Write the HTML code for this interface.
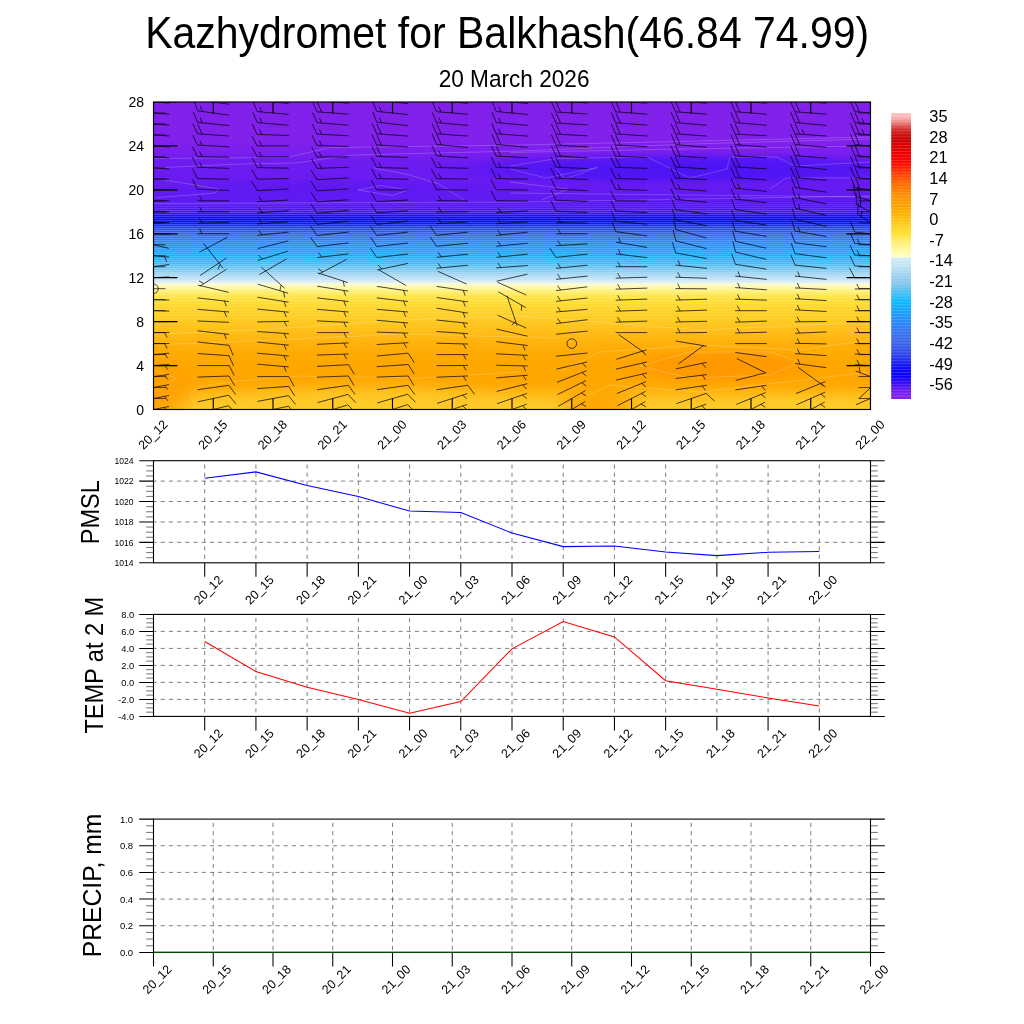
<!DOCTYPE html>
<html lang="en"><head><meta charset="utf-8"><title>Kazhydromet for Balkhash</title>
<style>html,body{margin:0;padding:0;background:#fff}svg{display:block}text{font-family:"Liberation Sans",sans-serif;fill:#000}</style></head><body>
<svg width="1024" height="1024" viewBox="0 0 1024 1024">
<defs>
<linearGradient id="tg" gradientUnits="userSpaceOnUse" x1="0" y1="0" x2="0" y2="1024">
<stop offset="0.09961" stop-color="#8220eb"/>
<stop offset="0.13867" stop-color="#8220ec"/>
<stop offset="0.14648" stop-color="#7c1fee"/>
<stop offset="0.15625" stop-color="#701cf0"/>
<stop offset="0.17578" stop-color="#6a1bf1"/>
<stop offset="0.19336" stop-color="#601af2"/>
<stop offset="0.20020" stop-color="#5818f3"/>
<stop offset="0.20703" stop-color="#4012f8"/>
<stop offset="0.21143" stop-color="#1206fc"/>
<stop offset="0.21436" stop-color="#0000ff"/>
<stop offset="0.21777" stop-color="#0412fa"/>
<stop offset="0.22266" stop-color="#2444f2"/>
<stop offset="0.22949" stop-color="#3468ec"/>
<stop offset="0.23633" stop-color="#2c84f6"/>
<stop offset="0.24414" stop-color="#1e9cff"/>
<stop offset="0.25098" stop-color="#0cb6ff"/>
<stop offset="0.25684" stop-color="#38bcf8"/>
<stop offset="0.26270" stop-color="#78c6f0"/>
<stop offset="0.26855" stop-color="#a4d6f4"/>
<stop offset="0.27344" stop-color="#c8e6f8"/>
<stop offset="0.27588" stop-color="#dcf0f4"/>
<stop offset="0.27734" stop-color="#fbfcd0"/>
<stop offset="0.28027" stop-color="#fffab0"/>
<stop offset="0.28418" stop-color="#fff07a"/>
<stop offset="0.29004" stop-color="#ffe445"/>
<stop offset="0.29883" stop-color="#ffd830"/>
<stop offset="0.31250" stop-color="#ffca20"/>
<stop offset="0.32715" stop-color="#ffba12"/>
<stop offset="0.33789" stop-color="#ffae08"/>
<stop offset="0.35156" stop-color="#ffa802"/>
<stop offset="0.36914" stop-color="#ffa600"/>
<stop offset="0.37793" stop-color="#ffab06"/>
<stop offset="0.38379" stop-color="#ffb814"/>
<stop offset="0.39160" stop-color="#ffc524"/>
<stop offset="0.39990" stop-color="#ffca2a"/>
</linearGradient>
<linearGradient id="cbg" gradientUnits="userSpaceOnUse" x1="0" y1="113.2" x2="0" y2="399.0">
<stop offset="0.0103" stop-color="#ffbcbc"/>
<stop offset="0.0309" stop-color="#ee8888"/>
<stop offset="0.0515" stop-color="#d83838"/>
<stop offset="0.0722" stop-color="#cc1010"/>
<stop offset="0.0928" stop-color="#c80000"/>
<stop offset="0.1237" stop-color="#e00000"/>
<stop offset="0.1546" stop-color="#f80000"/>
<stop offset="0.1753" stop-color="#ff0800"/>
<stop offset="0.1959" stop-color="#ff2800"/>
<stop offset="0.2165" stop-color="#ff4500"/>
<stop offset="0.2474" stop-color="#ff6a00"/>
<stop offset="0.2784" stop-color="#ff8800"/>
<stop offset="0.3093" stop-color="#ff9c00"/>
<stop offset="0.3402" stop-color="#ffaa00"/>
<stop offset="0.3711" stop-color="#ffc010"/>
<stop offset="0.4021" stop-color="#ffd424"/>
<stop offset="0.4227" stop-color="#ffe132"/>
<stop offset="0.4536" stop-color="#fff078"/>
<stop offset="0.4845" stop-color="#fffaa8"/>
<stop offset="0.5041" stop-color="#ffffc8"/>
<stop offset="0.5062" stop-color="#d2ecf8"/>
<stop offset="0.5361" stop-color="#c0e2f4"/>
<stop offset="0.5670" stop-color="#a0d2ee"/>
<stop offset="0.5979" stop-color="#80c6ee"/>
<stop offset="0.6289" stop-color="#48bef6"/>
<stop offset="0.6598" stop-color="#08baff"/>
<stop offset="0.6907" stop-color="#18a4ff"/>
<stop offset="0.7320" stop-color="#2888fa"/>
<stop offset="0.7732" stop-color="#3870ee"/>
<stop offset="0.8041" stop-color="#3c64e6"/>
<stop offset="0.8454" stop-color="#2c44ea"/>
<stop offset="0.8866" stop-color="#1010f6"/>
<stop offset="0.9175" stop-color="#0800fc"/>
<stop offset="0.9485" stop-color="#3c0cf6"/>
<stop offset="0.9691" stop-color="#6e1cee"/>
<stop offset="0.9948" stop-color="#8422ec"/>
</linearGradient>
<clipPath id="pc"><rect x="153.5" y="102.0" width="717.0" height="307.5"/></clipPath>
<radialGradient id="b1" gradientUnits="userSpaceOnUse" cx="720" cy="366" r="110" gradientTransform="translate(720 366) scale(1 0.1818) translate(-720 -366)"><stop offset="0" stop-color="#ff9600" stop-opacity="0.95"/><stop offset="0.55" stop-color="#ff9600" stop-opacity="0.71"/><stop offset="1" stop-color="#ff9600" stop-opacity="0"/></radialGradient>
<radialGradient id="b2" gradientUnits="userSpaceOnUse" cx="150" cy="392" r="52" gradientTransform="translate(150 392) scale(1 0.7692) translate(-150 -392)"><stop offset="0" stop-color="#ff9e00" stop-opacity="0.95"/><stop offset="0.55" stop-color="#ff9e00" stop-opacity="0.71"/><stop offset="1" stop-color="#ff9e00" stop-opacity="0"/></radialGradient>
<radialGradient id="b3" gradientUnits="userSpaceOnUse" cx="370" cy="414" r="200" gradientTransform="translate(370 414) scale(1 0.1800) translate(-370 -414)"><stop offset="0" stop-color="#ffcc2a" stop-opacity="0.7"/><stop offset="0.55" stop-color="#ffcc2a" stop-opacity="0.52"/><stop offset="1" stop-color="#ffcc2a" stop-opacity="0"/></radialGradient>
<radialGradient id="b4" gradientUnits="userSpaceOnUse" cx="800" cy="412" r="110" gradientTransform="translate(800 412) scale(1 0.1818) translate(-800 -412)"><stop offset="0" stop-color="#ffce2a" stop-opacity="0.6"/><stop offset="0.55" stop-color="#ffce2a" stop-opacity="0.45"/><stop offset="1" stop-color="#ffce2a" stop-opacity="0"/></radialGradient>
<radialGradient id="b5" gradientUnits="userSpaceOnUse" cx="690" cy="169" r="270" gradientTransform="translate(690 169) scale(1 0.0630) translate(-690 -169)"><stop offset="0" stop-color="#4212f6" stop-opacity="0.8"/><stop offset="0.55" stop-color="#4212f6" stop-opacity="0.60"/><stop offset="1" stop-color="#4212f6" stop-opacity="0"/></radialGradient>
<radialGradient id="b7" gradientUnits="userSpaceOnUse" cx="330" cy="188" r="190" gradientTransform="translate(330 188) scale(1 0.0526) translate(-330 -188)"><stop offset="0" stop-color="#5a16f4" stop-opacity="0.5"/><stop offset="0.55" stop-color="#5a16f4" stop-opacity="0.38"/><stop offset="1" stop-color="#5a16f4" stop-opacity="0"/></radialGradient>
<radialGradient id="b6" gradientUnits="userSpaceOnUse" cx="598" cy="404" r="46" gradientTransform="translate(598 404) scale(1 0.5652) translate(-598 -404)"><stop offset="0" stop-color="#ffa400" stop-opacity="0.95"/><stop offset="0.55" stop-color="#ffa400" stop-opacity="0.71"/><stop offset="1" stop-color="#ffa400" stop-opacity="0"/></radialGradient>
<pattern id="seam1" patternUnits="userSpaceOnUse" x="0" y="200.1" width="8" height="2"><rect x="0" y="0" width="8" height="0.85" fill="#fff" fill-opacity="0.27"/></pattern>
<pattern id="seam2" patternUnits="userSpaceOnUse" x="0" y="285.1" width="8" height="3"><rect x="0" y="0" width="8" height="0.85" fill="#fff" fill-opacity="0.19"/></pattern>
<linearGradient id="mg" gradientUnits="userSpaceOnUse" x1="0" y1="200" x2="0" y2="356"><stop offset="0" stop-color="#000"/><stop offset="0.08" stop-color="#fff"/><stop offset="0.55" stop-color="#fff"/><stop offset="0.7" stop-color="#aaa"/><stop offset="1" stop-color="#000"/></linearGradient>
<mask id="mk" maskUnits="userSpaceOnUse" x="153.5" y="200" width="717.0" height="156"><rect x="153.5" y="200" width="717.0" height="156" fill="url(#mg)"/></mask>
</defs>
<rect width="1024" height="1024" fill="#fff"/>
<text x="145.2" y="47.8" font-size="44" textLength="724" lengthAdjust="spacingAndGlyphs">Kazhydromet for Balkhash(46.84 74.99)</text>
<text x="438.7" y="86.6" font-size="24.3" textLength="150.8" lengthAdjust="spacingAndGlyphs">20 March 2026</text>
<rect x="153.5" y="102.0" width="717.0" height="307.5" fill="url(#tg)"/>
<g clip-path="url(#pc)">
<rect x="153.5" y="102.0" width="717.0" height="307.5" fill="url(#b1)"/>
<rect x="153.5" y="102.0" width="717.0" height="307.5" fill="url(#b2)"/>
<rect x="153.5" y="102.0" width="717.0" height="307.5" fill="url(#b3)"/>
<rect x="153.5" y="102.0" width="717.0" height="307.5" fill="url(#b4)"/>
<rect x="153.5" y="102.0" width="717.0" height="307.5" fill="url(#b5)"/>
<rect x="153.5" y="102.0" width="717.0" height="307.5" fill="url(#b7)"/>
<rect x="153.5" y="102.0" width="717.0" height="307.5" fill="url(#b6)"/>
<path d="M153 158.5L287 157.4L330 147.6L520 145L700 141L870 137M153 168L240 164L295 163L352 155L520 151L690 144L870 139M153 178L219 189L215 193L153 198M374 168L410 175L439 184L464 200M358 190L381 185.5L408 190L392 195.5L358 190M153 203.5L520 202L870 196M510 152.5L655 149.5L870 146M510 166L557 158.5L647 157L690 178L727 169L730 157L777 157L795 166L870 162M510 169L546 178L597 167.5L565 179L556 168M510 182L568 189L542 200M770 189L786 178L870 178M510 193L690 195L870 197M153 334L258 330L403 320L520 316L700 330L870 322M153 345L295 339L403 334L560 338M197 408L190 396L197 387L237 381L300 376L420 378L520 372M153 370L176 378L153 392M560 372L600 352L700 345L800 350L870 340M640 366L690 352L770 352L800 362L770 375L690 378L640 366M560 409L610 385L700 392L870 372" stroke="#fff" stroke-opacity="0.32" stroke-width="0.6" fill="none"/>
<g mask="url(#mk)">
<rect x="153.5" y="200.1" width="717.0" height="85" fill="url(#seam1)"/>
<rect x="153.5" y="285.1" width="717.0" height="71" fill="url(#seam2)"/>
</g>
<g stroke="#000" stroke-width="0.72" fill="none" stroke-linecap="butt">
<path d="M138.0 412.5L169.0 406.5M164.4 407.4L167.9 411.7"/>
<path d="M138.0 401.5L169.0 395.5M164.4 396.4L167.9 400.8"/>
<path d="M138.0 390.6L169.0 384.5M164.4 385.4L167.9 389.8"/>
<path d="M137.9 378.8L169.1 374.4M164.5 375.0L167.8 379.5"/>
<path d="M137.7 366.7L169.3 364.5M164.6 364.8L167.5 369.5"/>
<path d="M137.8 356.0L169.2 353.2M164.6 353.6L167.6 358.3"/>
<path d="M137.7 343.6L169.3 343.6M164.6 343.6L167.2 348.6"/>
<path d="M137.7 332.6L169.3 332.6M164.6 332.6L167.2 337.6"/>
<path d="M137.7 321.6L169.3 321.6"/>
<path d="M137.7 310.2L169.3 311.1"/>
<path d="M137.7 299.3L169.3 300.1"/>
<circle cx="153.5" cy="288.7" r="4.8" fill="none"/>
<path d="M137.7 278.5L169.3 276.9"/>
<path d="M137.9 268.9L169.1 264.5"/>
<path d="M137.8 254.4L169.2 257.1M164.6 256.7L166.7 261.9"/>
<path d="M168.9 248.3L138.1 241.2"/>
<path d="M169.3 234.1L137.7 233.5M142.4 233.6L139.9 228.6"/>
<path d="M169.3 222.5L137.7 223.1M142.4 223.0L139.7 218.1"/>
<path d="M169.3 212.1L137.7 211.5M142.4 211.6L139.9 206.6"/>
<path d="M169.3 200.8L137.7 200.8M142.4 200.8L139.8 195.9"/>
<path d="M169.3 189.9L137.7 189.9M137.7 189.9L132.4 180.0"/>
<path d="M169.3 179.4L137.7 178.3M137.7 178.3L132.8 168.3"/>
<path d="M169.3 169.0L137.7 166.8M137.7 166.8L133.2 156.6M142.4 167.1L140.1 162.0"/>
<path d="M169.3 158.0L137.7 155.8M137.7 155.8L133.2 145.6M142.4 156.1L140.1 151.0"/>
<path d="M169.3 147.0L137.7 144.8M137.7 144.8L133.2 134.6M142.4 145.2L140.1 140.0"/>
<path d="M169.3 136.0L137.7 133.8M137.7 133.8L133.2 123.6M142.4 134.2L140.1 129.1"/>
<path d="M169.3 125.1L137.7 122.9M137.7 122.9L133.2 112.6M142.4 123.2L140.1 118.1"/>
<path d="M169.3 114.1L137.7 111.9M137.7 111.9L133.2 101.6M142.4 112.2L140.1 107.1"/>
<path d="M169.3 103.1L137.7 100.9M137.7 100.9L133.2 90.7M142.4 101.2L140.1 96.1"/>
<path d="M197.9 413.3L228.6 405.7M228.6 405.7L236.1 414.0"/>
<path d="M197.8 401.8L228.7 395.2M228.7 395.2L235.9 403.8"/>
<path d="M197.6 389.7L228.9 385.3M228.9 385.3L235.5 394.4"/>
<path d="M197.5 377.1L229.0 376.0M229.0 376.0L234.6 385.7"/>
<path d="M197.4 365.6L229.1 365.6M229.1 365.6L234.3 375.5"/>
<path d="M197.5 353.5L229.0 355.7M229.0 355.7L233.6 365.9"/>
<path d="M197.5 342.0L229.0 345.3M229.0 345.3L233.2 355.6"/>
<path d="M197.6 330.8L228.9 334.4M224.3 333.9L226.3 339.1"/>
<path d="M197.5 321.0L229.0 322.3"/>
<path d="M197.5 309.3L229.0 312.0M224.3 311.6L226.5 316.8"/>
<path d="M197.6 297.9L228.9 301.5M224.3 300.9L226.3 306.1"/>
<path d="M228.6 292.3L197.9 285.1"/>
<path d="M226.6 269.2L199.9 286.2M203.9 283.7L199.0 280.9"/>
<path d="M226.4 258.0L200.1 275.5"/>
<path d="M203.5 243.3L223.0 268.2M220.1 264.5L217.8 269.6"/>
<path d="M227.2 237.4L199.3 252.2"/>
<path d="M229.1 233.8L197.4 233.8M202.1 233.8L199.5 228.8"/>
<path d="M229.0 222.5L197.5 223.1M202.2 223.0L199.4 218.1"/>
<path d="M229.1 211.8L197.4 211.8M202.1 211.8L199.5 206.9"/>
<path d="M229.1 200.8L197.4 200.8M202.1 200.8L199.5 195.9"/>
<path d="M229.0 190.4L197.5 189.3M197.5 189.3L192.5 179.2"/>
<path d="M229.0 179.2L197.5 178.6M197.5 178.6L192.4 168.6"/>
<path d="M229.0 168.4L197.5 167.3M197.5 167.3L192.5 157.3M202.2 167.5L199.7 162.5"/>
<path d="M229.0 157.2L197.5 156.6M197.5 156.6L192.4 146.7M202.2 156.7L199.6 151.7"/>
<path d="M229.0 146.8L197.5 145.1M197.5 145.1L192.7 135.0M202.2 145.3L199.8 140.3"/>
<path d="M229.0 136.0L197.5 133.8M197.5 133.8L192.9 123.6M202.2 134.2L197.6 123.9"/>
<path d="M229.0 125.6L197.5 122.3M197.5 122.3L193.3 111.9M202.2 122.8L200.1 117.6"/>
<path d="M228.9 115.2L197.6 110.8M197.6 110.8L193.8 100.3M202.3 111.4L200.3 106.2"/>
<path d="M228.9 104.2L197.6 99.8M197.6 99.8L193.8 89.3M202.3 100.5L200.3 95.2"/>
<path d="M257.5 412.8L288.5 406.2M288.5 406.2L295.7 414.8"/>
<path d="M257.5 401.4L288.5 395.6M288.5 395.6L295.5 404.4"/>
<path d="M257.2 388.6L288.8 386.4M288.8 386.4L294.7 395.9"/>
<path d="M257.2 376.6L288.8 376.6M288.8 376.6L294.1 386.4"/>
<path d="M257.3 364.2L288.7 366.9M284.1 366.5L286.2 371.7"/>
<path d="M257.3 353.2L288.7 356.0M284.1 355.6L286.2 360.7"/>
<path d="M257.3 342.0L288.7 345.2M284.0 344.7L286.2 349.9"/>
<path d="M257.2 331.5L288.8 333.7M284.1 333.4L286.4 338.5"/>
<path d="M257.2 321.9L288.8 321.4M284.1 321.4L286.8 326.3"/>
<path d="M257.3 309.1L288.7 312.2M284.0 311.7L286.2 316.9"/>
<path d="M257.4 297.2L288.6 302.2M284.0 301.4L285.8 306.7"/>
<path d="M257.9 284.2L288.1 293.2M283.6 291.9L284.7 297.4"/>
<path d="M261.3 267.1L284.7 288.3M281.2 285.1L279.9 290.6"/>
<path d="M286.7 258.8L259.3 274.6"/>
<path d="M288.1 251.1L257.9 260.4M262.4 259.0L258.4 255.0"/>
<path d="M288.3 240.9L257.7 248.6"/>
<path d="M288.7 232.1L257.3 235.4M262.0 234.9L258.8 230.3"/>
<path d="M288.8 221.7L257.2 223.9M261.9 223.6L259.0 218.8"/>
<path d="M288.8 210.7L257.2 212.9M261.9 212.6L259.0 207.8"/>
<path d="M288.8 200.0L257.2 201.7M261.9 201.4L259.0 196.6"/>
<path d="M288.8 189.0L257.2 190.7M257.2 190.7L251.5 181.1"/>
<path d="M288.8 178.6L257.2 179.2M257.2 179.2L251.8 169.4"/>
<path d="M288.8 168.2L257.2 167.6M257.2 167.6L252.1 157.6M261.9 167.7L259.4 162.7"/>
<path d="M288.8 156.9L257.2 156.9M257.2 156.9L251.9 147.0M261.9 156.9L259.3 152.0"/>
<path d="M288.8 145.9L257.2 145.9M257.2 145.9L251.9 136.0M261.9 145.9L259.3 141.0"/>
<path d="M288.8 135.5L257.2 134.4M257.2 134.4L252.3 124.3M261.9 134.6L259.5 129.5"/>
<path d="M288.7 125.3L257.3 122.6M257.3 122.6L252.9 112.3M261.9 123.0L259.8 117.8"/>
<path d="M288.7 114.4L257.3 111.6M257.3 111.6L252.9 101.3M261.9 112.0L259.8 106.9"/>
<path d="M288.7 103.4L257.3 100.6M257.3 100.6L252.9 90.3M261.9 101.0L259.8 95.9"/>
<path d="M317.6 414.1L347.9 404.9M347.9 404.9L355.8 412.8"/>
<path d="M317.5 402.6L348.0 394.4M348.0 394.4L355.7 402.6"/>
<path d="M317.1 389.7L348.4 385.3M348.4 385.3L355.0 394.4"/>
<path d="M317.0 377.1L348.5 376.0M348.5 376.0L354.1 385.7"/>
<path d="M317.0 366.4L348.5 364.7M348.5 364.7L354.3 374.3"/>
<path d="M317.0 355.1L348.5 354.0M343.8 354.2L346.6 359.1"/>
<path d="M317.0 344.3L348.5 342.9M343.8 343.1L346.7 347.9"/>
<path d="M316.9 332.6L348.6 332.6M343.9 332.6L346.5 337.6"/>
<path d="M317.0 320.9L348.5 322.4M343.8 322.1L346.2 327.2"/>
<path d="M317.0 309.3L348.5 312.0M343.8 311.6L346.0 316.8"/>
<path d="M317.1 297.9L348.4 301.5M343.8 300.9L345.8 306.1"/>
<path d="M317.1 286.2L348.4 291.2M343.7 290.4L345.5 295.7"/>
<path d="M317.7 272.8L347.8 282.6M343.3 281.1L344.3 286.7"/>
<path d="M346.7 259.3L318.8 274.1M322.9 271.9L318.3 268.8"/>
<path d="M348.4 253.9L317.1 257.6M321.7 257.1L318.5 252.5"/>
<path d="M348.4 242.9L317.1 246.6M317.1 246.6L310.7 237.4"/>
<path d="M348.5 232.1L317.0 235.5M317.0 235.5L310.7 226.3"/>
<path d="M348.5 221.2L317.0 224.4M317.0 224.4L310.8 215.1"/>
<path d="M348.5 210.4L317.0 213.2M317.0 213.2L310.9 203.8"/>
<path d="M348.5 199.8L317.0 201.9M317.0 201.9L311.1 192.3"/>
<path d="M348.5 188.9L317.0 190.8M317.0 190.8L311.1 181.3"/>
<path d="M348.5 178.0L317.0 179.7M317.0 179.7L311.2 170.1"/>
<path d="M348.5 167.3L317.0 168.4M317.0 168.4L311.4 158.7M321.7 168.3L318.9 163.4"/>
<path d="M348.6 156.9L316.9 156.9M316.9 156.9L311.7 147.0M321.6 156.9L319.0 152.0"/>
<path d="M348.5 146.5L317.0 145.4M317.0 145.4L312.0 135.3M321.7 145.5L319.2 140.5"/>
<path d="M348.5 135.8L317.0 134.1M317.0 134.1L312.2 124.0M321.7 134.4L319.3 129.3"/>
<path d="M348.5 125.2L317.0 122.7M317.0 122.7L312.5 112.5M321.7 123.1L319.5 118.0"/>
<path d="M348.5 114.2L317.0 111.8M317.0 111.8L312.5 101.5M321.7 112.1L317.2 101.9"/>
<path d="M348.5 103.2L317.0 100.8M317.0 100.8L312.5 90.6M321.7 101.2L317.2 90.9"/>
<path d="M377.5 414.4L407.5 404.6M407.5 404.6L415.6 412.4"/>
<path d="M377.3 402.9L407.7 394.2M407.7 394.2L415.5 402.2"/>
<path d="M376.9 389.7L408.1 385.3M408.1 385.3L414.7 394.4"/>
<path d="M376.7 377.1L408.3 376.0M408.3 376.0L413.9 385.7"/>
<path d="M376.7 366.7L408.3 364.5M408.3 364.5L414.2 374.0"/>
<path d="M376.8 356.0L408.2 353.2M408.2 353.2L414.3 362.6"/>
<path d="M376.7 344.5L408.3 342.7M403.6 342.9L406.5 347.7"/>
<path d="M376.7 332.1L408.3 333.2M403.6 333.0L406.0 338.0"/>
<path d="M376.8 320.3L408.2 323.0M403.6 322.6L405.7 327.8"/>
<path d="M376.8 309.3L408.2 312.0M403.6 311.6L405.7 316.8"/>
<path d="M376.8 297.9L408.2 301.5M403.5 300.9L405.6 306.1"/>
<path d="M376.9 286.4L408.1 291.0M403.5 290.3L405.3 295.6"/>
<path d="M378.8 269.8L406.2 285.6"/>
<path d="M408.0 263.4L377.0 270.0M381.6 269.0L378.0 264.8"/>
<path d="M408.2 254.0L376.8 257.5M376.8 257.5L370.5 248.3"/>
<path d="M408.2 243.0L376.8 246.5M376.8 246.5L370.5 237.2"/>
<path d="M408.2 232.1L376.8 235.5M376.8 235.5L370.5 226.3"/>
<path d="M408.2 221.2L376.8 224.4M376.8 224.4L370.6 215.1"/>
<path d="M408.3 210.8L376.7 212.8M376.7 212.8L370.8 203.3"/>
<path d="M408.3 200.0L376.7 201.7M376.7 201.7L371.0 192.1"/>
<path d="M408.3 189.9L376.7 189.9M376.7 189.9L371.4 180.0"/>
<path d="M408.3 179.2L376.7 178.6M376.7 178.6L371.6 168.6M381.4 178.7L378.9 173.7"/>
<path d="M408.3 168.3L376.7 167.5M376.7 167.5L371.7 157.5M381.4 167.6L378.9 162.6"/>
<path d="M408.3 157.5L376.7 156.3M376.7 156.3L371.9 146.2M381.4 156.5L376.6 146.4"/>
<path d="M408.3 146.9L376.7 145.0M376.7 145.0L372.1 134.8M381.4 145.3L376.8 135.1"/>
<path d="M408.3 136.1L376.7 133.8M376.7 133.8L372.2 123.5M381.4 134.1L376.9 123.9"/>
<path d="M408.2 125.7L376.8 122.2M376.8 122.2L372.7 111.8M381.5 122.7L379.4 117.5"/>
<path d="M408.2 114.6L376.8 111.4M376.8 111.4L372.5 101.1M381.5 111.9L379.3 106.7"/>
<path d="M408.2 103.6L376.8 100.4M376.8 100.4L372.5 90.1M381.5 100.9L379.3 95.7"/>
<path d="M437.3 414.6L467.2 404.4M462.7 405.9L466.8 409.7"/>
<path d="M437.2 403.4L467.3 393.6M462.8 395.1L466.8 399.0"/>
<path d="M436.6 389.7L467.9 385.3M467.9 385.3L474.5 394.4"/>
<path d="M436.5 377.2L468.0 375.9M463.3 376.1L466.2 380.9"/>
<path d="M436.5 365.7L468.0 365.4M463.3 365.5L466.0 370.4"/>
<path d="M436.4 354.6L468.1 354.6M463.4 354.6L466.0 359.5"/>
<path d="M436.5 343.2L468.0 344.0M463.3 343.9L465.9 348.9"/>
<path d="M436.5 331.5L468.0 333.7M463.3 333.4L465.6 338.5"/>
<path d="M436.5 320.0L468.0 323.3M463.3 322.8L465.4 328.0"/>
<path d="M436.6 308.2L467.9 313.1M463.2 312.4L465.0 317.7"/>
<path d="M436.6 297.5L467.9 301.9M463.2 301.2L465.2 306.5"/>
<path d="M436.6 286.4L467.9 291.0M463.2 290.3L465.1 295.6"/>
<path d="M437.8 271.3L466.7 284.1"/>
<path d="M468.0 265.2L436.5 268.3M441.2 267.8L438.1 263.2"/>
<path d="M468.0 254.2L436.5 257.3M441.2 256.9L438.1 252.2"/>
<path d="M468.0 243.2L436.5 246.3M436.5 246.3L430.3 237.0"/>
<path d="M468.0 232.1L436.5 235.4M436.5 235.4L430.3 226.2"/>
<path d="M468.0 222.0L436.5 223.6M441.2 223.4L438.3 218.6"/>
<path d="M468.0 211.7L436.5 212.0M441.2 211.9L438.5 207.0"/>
<path d="M468.0 201.0L436.5 200.7M441.2 200.7L438.6 195.8"/>
<path d="M468.0 190.1L436.5 189.6M436.5 189.6L431.4 179.6"/>
<path d="M468.0 179.0L436.5 178.7M436.5 178.7L431.3 168.8M441.2 178.8L438.6 173.8"/>
<path d="M468.0 168.3L436.5 167.5M436.5 167.5L431.4 157.5M441.2 167.6L438.6 162.6"/>
<path d="M468.0 157.9L436.5 155.9M436.5 155.9L431.9 145.7M441.2 156.2L438.9 151.1"/>
<path d="M468.0 147.5L436.5 144.4M436.5 144.4L432.3 134.0M441.2 144.8L437.0 134.5"/>
<path d="M468.0 136.1L436.5 133.8M436.5 133.8L432.0 123.5M441.2 134.1L436.7 123.9"/>
<path d="M468.0 125.4L436.5 122.6M436.5 122.6L432.2 112.2M441.2 123.0L439.0 117.8"/>
<path d="M468.0 114.3L436.5 111.7M436.5 111.7L432.1 101.4M441.2 112.1L439.0 106.9"/>
<path d="M468.0 103.3L436.5 100.7M436.5 100.7L432.1 90.4M441.2 101.1L439.0 95.9"/>
<path d="M497.2 414.9L526.8 404.1M522.4 405.7L526.6 409.5"/>
<path d="M497.1 403.7L526.9 393.4M522.5 394.9L526.6 398.7"/>
<path d="M496.7 391.4L527.3 383.7M522.8 384.9L526.5 389.0"/>
<path d="M496.3 377.9L527.7 375.2M523.1 375.6L526.1 380.3"/>
<path d="M496.2 365.2L527.8 366.0M523.1 365.8L525.6 370.8"/>
<path d="M496.2 353.8L527.8 355.4M523.1 355.2L525.5 360.2"/>
<path d="M496.3 341.7L527.7 345.5M523.0 345.0L525.0 350.2"/>
<path d="M496.6 329.1L527.4 336.2"/>
<path d="M497.6 315.2L526.4 328.1"/>
<path d="M506.9 295.7L517.1 325.6M515.6 321.2L511.8 325.3"/>
<path d="M498.3 291.8L525.7 307.6M521.6 305.2L521.4 310.8"/>
<path d="M497.6 282.3L526.4 295.1"/>
<path d="M527.4 274.2L496.6 281.2"/>
<path d="M527.8 265.5L496.2 267.9M500.9 267.6L497.9 262.8"/>
<path d="M527.7 254.2L496.3 257.3M501.0 256.9L497.8 252.2"/>
<path d="M527.7 243.2L496.3 246.3M501.0 245.9L497.8 241.2"/>
<path d="M527.7 232.2L496.3 235.4M501.0 234.9L497.8 230.2"/>
<path d="M527.8 221.9L496.2 223.7M500.9 223.5L498.0 218.7"/>
<path d="M527.8 211.0L496.2 212.6M500.9 212.4L498.0 207.6"/>
<path d="M527.8 201.0L496.2 200.7M496.2 200.7L491.0 190.8"/>
<path d="M527.8 190.0L496.2 189.7M496.2 189.7L491.0 179.8"/>
<path d="M527.8 179.2L496.2 178.6M496.2 178.6L491.1 168.6M500.9 178.7L498.4 173.7"/>
<path d="M527.8 168.4L496.2 167.3M496.2 167.3L491.3 157.3M500.9 167.5L498.5 162.5"/>
<path d="M527.8 157.7L496.2 156.1M496.2 156.1L491.5 146.0M500.9 156.3L496.2 146.2"/>
<path d="M527.7 147.3L496.3 144.5M496.3 144.5L491.9 134.2M500.9 144.9L496.6 134.6"/>
<path d="M527.8 136.1L496.2 133.8M496.2 133.8L491.7 123.5M500.9 134.1L498.7 129.0"/>
<path d="M527.7 125.4L496.3 122.6M496.3 122.6L491.9 112.2M500.9 123.0L498.8 117.8"/>
<path d="M527.7 114.5L496.3 111.5M496.3 111.5L492.0 101.2M500.9 111.9L498.8 106.8"/>
<path d="M527.7 103.5L496.3 100.5M496.3 100.5L492.0 90.2M500.9 101.0L498.8 95.8"/>
<path d="M558.2 417.6L585.3 401.4M581.3 403.8L586.1 406.7"/>
<path d="M558.1 406.4L585.4 390.6M581.4 393.0L586.1 395.9"/>
<path d="M557.5 394.5L586.0 380.6M581.7 382.7L586.3 386.0"/>
<path d="M557.0 382.3L586.5 370.8M582.1 372.5L586.3 376.1"/>
<path d="M556.4 369.1L587.1 362.0M582.6 363.1L586.2 367.3"/>
<path d="M556.0 356.2L587.5 353.0"/>
<circle cx="571.8" cy="343.6" r="4.8" fill="none"/>
<path d="M587.5 331.1L556.0 334.2"/>
<path d="M587.4 319.7L556.1 323.6M560.7 323.0L557.5 318.4"/>
<path d="M587.5 309.3L556.0 312.0M560.7 311.6L557.6 306.9"/>
<path d="M587.5 298.0L556.0 301.3M560.7 300.8L557.6 296.2"/>
<path d="M587.4 286.8L556.1 290.6M560.7 290.0L557.5 285.5"/>
<path d="M587.5 276.1L556.0 279.3M560.7 278.8L557.6 274.2"/>
<path d="M587.5 265.2L556.0 268.3M560.7 267.8L557.6 263.2"/>
<path d="M587.5 254.1L556.0 257.4M556.0 257.4L549.8 248.1"/>
<path d="M587.5 243.8L556.0 245.7M560.7 245.4L557.8 240.6"/>
<path d="M587.5 233.8L556.0 233.8M560.7 233.8L558.0 228.8"/>
<path d="M587.5 223.1L556.0 222.6M560.7 222.6L558.1 217.6"/>
<path d="M587.5 212.5L556.0 211.2M556.0 211.2L551.1 201.1"/>
<path d="M587.5 201.4L556.0 200.3M556.0 200.3L551.0 190.2"/>
<path d="M587.5 190.6L556.0 189.1M556.0 189.1L551.2 179.0"/>
<path d="M587.5 179.4L556.0 178.3M556.0 178.3L551.0 168.3M560.7 178.5L558.2 173.5"/>
<path d="M587.5 168.6L556.0 167.2M556.0 167.2L551.2 157.1M560.7 167.4L555.9 157.3"/>
<path d="M587.5 157.9L556.0 155.9M556.0 155.9L551.4 145.7M560.7 156.2L556.1 146.0"/>
<path d="M587.5 146.9L556.0 145.0M556.0 145.0L551.3 134.8M560.7 145.3L556.0 135.1"/>
<path d="M587.5 135.8L556.0 134.1M556.0 134.1L551.3 123.9M560.7 134.3L556.0 124.2"/>
<path d="M587.5 124.9L556.0 123.0M556.0 123.0L551.3 112.8M560.7 123.3L556.0 113.1"/>
<path d="M587.5 114.0L556.0 112.0M556.0 112.0L551.4 101.8M560.7 112.3L556.1 102.1"/>
<path d="M587.5 103.0L556.0 101.0M556.0 101.0L551.4 90.8M560.7 101.3L556.1 91.1"/>
<path d="M617.8 417.4L645.2 401.6M641.1 404.0L645.9 406.9"/>
<path d="M617.4 405.7L645.6 391.3M641.4 393.5L646.0 396.7"/>
<path d="M616.9 393.5L646.1 381.6M641.8 383.4L646.1 387.0"/>
<path d="M616.1 380.1L646.9 373.0M642.3 374.1L646.0 378.3"/>
<path d="M616.1 369.1L646.9 362.0M642.3 363.1L646.0 367.3"/>
<path d="M616.4 359.3L646.6 349.8M642.1 351.3L646.1 355.2"/>
<path d="M618.6 334.5L644.4 352.7"/>
<path d="M647.3 332.6L615.7 332.6"/>
<path d="M647.3 321.1L615.7 322.2M620.4 322.0L617.6 317.2"/>
<path d="M647.3 310.1L615.7 311.2M620.4 311.0L617.6 306.2"/>
<path d="M647.3 299.1L615.7 300.2M620.4 300.1L617.6 295.2"/>
<path d="M647.3 288.1L615.7 289.2M620.4 289.1L617.6 284.2"/>
<path d="M647.3 277.2L615.7 278.2M620.4 278.0L617.6 273.2"/>
<path d="M647.3 266.7L615.7 266.7M620.4 266.7L617.8 261.8"/>
<path d="M647.2 257.6L615.8 253.9M620.5 254.4L618.5 249.2"/>
<path d="M647.1 247.4L615.9 242.2M620.6 242.9L618.8 237.6"/>
<path d="M647.2 235.9L615.8 231.7M615.8 231.7L611.9 221.2"/>
<path d="M647.2 224.2L615.8 221.4M615.8 221.4L611.4 211.1"/>
<path d="M647.3 212.6L615.7 211.0M615.7 211.0L611.0 200.9"/>
<path d="M647.3 201.0L615.7 200.7M615.7 200.7L610.5 190.8"/>
<path d="M647.3 190.4L615.7 189.3M615.7 189.3L610.8 179.2M620.4 189.5L618.0 184.4"/>
<path d="M647.3 179.3L615.7 178.5M615.7 178.5L610.7 168.5M620.4 178.6L617.9 173.6"/>
<path d="M647.3 168.4L615.7 167.3M615.7 167.3L610.8 157.3M620.4 167.5L615.5 157.4"/>
<path d="M647.3 157.5L615.7 156.3M615.7 156.3L610.9 146.2M620.4 156.5L615.6 146.4"/>
<path d="M647.3 146.7L615.7 145.1M615.7 145.1L611.0 135.0M620.4 145.4L615.7 135.2"/>
<path d="M647.3 136.0L615.7 133.9M615.7 133.9L611.1 123.7M620.4 134.2L615.8 124.0"/>
<path d="M647.3 125.1L615.7 122.8M615.7 122.8L611.2 112.5M620.4 123.1L615.9 112.9"/>
<path d="M647.3 114.2L615.7 111.8M615.7 111.8L611.2 101.5M620.4 112.1L615.9 101.9"/>
<path d="M647.3 103.2L615.7 100.8M615.7 100.8L611.2 90.6M620.4 101.2L615.9 90.9"/>
<path d="M676.4 414.9L706.1 404.1M701.7 405.7L705.8 409.5"/>
<path d="M676.3 403.7L706.2 393.4M706.2 393.4L714.4 401.0"/>
<path d="M675.6 389.9L706.9 385.2M702.2 385.9L705.6 390.4"/>
<path d="M675.6 378.5L706.9 374.6M702.3 375.2L705.5 379.8"/>
<path d="M675.8 368.9L706.7 362.3M702.1 363.3L705.7 367.6"/>
<path d="M704.0 345.3L678.5 363.9"/>
<path d="M675.7 341.0L706.8 346.2"/>
<path d="M707.0 332.5L675.5 332.8M680.2 332.7L677.5 327.8"/>
<path d="M707.0 321.3L675.5 322.0M680.2 321.9L677.4 317.0"/>
<path d="M707.0 310.1L675.5 311.2M680.2 311.0L677.4 306.2"/>
<path d="M707.0 299.2L675.5 300.1M680.2 300.0L677.4 295.1"/>
<path d="M707.0 288.8L675.5 288.6M680.2 288.6L677.6 283.6"/>
<path d="M707.0 278.3L675.5 277.2M680.2 277.3L677.7 272.3"/>
<path d="M707.0 268.4L675.5 265.1M680.2 265.6L678.1 260.4"/>
<path d="M706.8 258.6L675.7 252.9M675.7 252.9L672.3 242.2"/>
<path d="M706.6 248.6L675.9 240.9M675.9 240.9L673.2 230.1"/>
<path d="M706.5 238.0L676.0 229.6M676.0 229.6L673.6 218.7"/>
<path d="M706.8 225.7L675.7 219.9M675.7 219.9L672.4 209.2"/>
<path d="M706.9 213.9L675.6 209.7M675.6 209.7L671.7 199.2"/>
<path d="M707.0 202.2L675.5 199.4M675.5 199.4L671.2 189.1M680.2 199.9L678.0 194.7"/>
<path d="M707.0 191.0L675.5 188.8M675.5 188.8L670.9 178.5M680.2 189.1L677.9 184.0"/>
<path d="M707.0 179.7L675.5 178.1M675.5 178.1L670.7 167.9M680.2 178.3L675.4 168.2"/>
<path d="M707.0 168.8L675.5 167.0M675.5 167.0L670.8 156.8M680.2 167.2L675.5 157.1"/>
<path d="M707.0 157.9L675.5 155.9M675.5 155.9L670.9 145.7M680.2 156.2L675.6 146.0"/>
<path d="M707.0 147.3L675.5 144.5M675.5 144.5L671.2 134.2M680.2 144.9L675.8 134.6"/>
<path d="M707.0 136.1L675.5 133.8M675.5 133.8L671.0 123.5M680.2 134.1L675.7 123.9"/>
<path d="M707.0 125.3L675.5 122.6M675.5 122.6L671.1 112.3M680.2 123.0L675.8 112.7"/>
<path d="M707.0 114.2L675.5 111.8M675.5 111.8L671.0 101.5M680.2 112.1L675.7 101.9"/>
<path d="M707.0 103.2L675.5 100.8M675.5 100.8L671.0 90.6M680.2 101.2L675.7 90.9"/>
<path d="M737.0 416.9L765.0 402.1M760.8 404.3L765.4 407.4"/>
<path d="M736.4 404.4L765.6 392.6M761.3 394.4L765.6 398.0"/>
<path d="M735.4 389.9L766.6 385.2M762.0 385.9L765.3 390.4"/>
<path d="M735.7 380.4L766.3 372.7"/>
<path d="M736.8 358.6L765.2 372.5"/>
<path d="M735.3 352.5L766.7 356.7"/>
<path d="M766.8 343.6L735.2 343.6"/>
<path d="M766.8 332.2L735.2 333.0M739.9 332.9L737.2 328.0"/>
<path d="M766.8 321.1L735.2 322.2M739.9 322.0L737.1 317.2"/>
<path d="M766.8 310.7L735.2 310.7M739.9 310.7L737.3 305.7"/>
<path d="M766.8 300.2L735.2 299.1M739.9 299.3L737.5 294.3"/>
<path d="M766.8 289.8L735.2 287.6M739.9 287.9L737.6 282.8"/>
<path d="M766.7 279.4L735.3 276.1M740.0 276.6L737.9 271.4"/>
<path d="M766.6 269.2L735.4 264.3M735.4 264.3L731.7 253.7"/>
<path d="M766.4 259.4L735.6 252.1M735.6 252.1L732.8 241.3"/>
<path d="M766.4 248.2L735.6 241.3M735.6 241.3L732.6 230.5"/>
<path d="M766.6 236.4L735.4 231.2M735.4 231.2L731.8 220.6"/>
<path d="M766.6 225.1L735.4 220.5M735.4 220.5L731.6 209.9"/>
<path d="M766.6 214.2L735.4 209.5M735.4 209.5L731.6 198.9"/>
<path d="M766.7 202.7L735.3 199.0M735.3 199.0L731.3 188.5M740.0 199.5L738.0 194.3"/>
<path d="M766.7 191.4L735.3 188.3M735.3 188.3L731.0 177.9M740.0 188.8L737.8 183.6"/>
<path d="M766.7 180.1L735.3 177.6M735.3 177.6L730.8 167.3M739.9 178.0L735.5 167.7"/>
<path d="M766.8 168.8L735.2 167.0M735.2 167.0L730.6 156.8M739.9 167.2L735.3 157.1"/>
<path d="M766.8 157.9L735.2 155.9M735.2 155.9L730.6 145.7M739.9 156.2L735.3 146.0"/>
<path d="M766.8 147.1L735.2 144.7M735.2 144.7L730.7 134.5M739.9 145.1L735.4 134.8"/>
<path d="M766.8 135.8L735.2 134.1M735.2 134.1L730.5 123.9M739.9 134.3L735.2 124.2"/>
<path d="M766.7 125.3L735.3 122.6M735.3 122.6L730.8 112.3M739.9 123.0L735.5 112.7"/>
<path d="M766.8 114.2L735.2 111.8M735.2 111.8L730.7 101.5M739.9 112.1L735.4 101.9"/>
<path d="M766.8 103.2L735.2 100.8M735.2 100.8L730.7 90.6M739.9 101.2L735.4 90.9"/>
<path d="M796.8 416.9L824.7 402.1M820.6 404.3L825.2 407.4"/>
<path d="M796.3 404.9L825.2 392.1M820.9 394.0L825.3 397.5"/>
<path d="M796.1 393.5L825.4 381.6M821.0 383.4L825.3 387.0"/>
<path d="M798.0 367.3L823.5 385.8"/>
<path d="M826.4 367.7L795.1 363.5M799.7 364.1L797.8 358.9"/>
<path d="M826.5 355.6L795.0 353.6M799.7 353.9L797.4 348.8"/>
<path d="M826.5 343.9L795.0 343.3M799.7 343.4L797.1 338.4"/>
<path d="M826.5 331.9L795.0 333.3M799.7 333.1L796.8 328.3"/>
<path d="M826.5 321.5L795.0 321.8M799.7 321.7L797.0 316.8"/>
<path d="M826.5 311.5L795.0 309.8M799.7 310.1L797.3 305.0"/>
<path d="M826.5 300.6L795.0 298.7M799.7 299.0L797.3 293.9"/>
<path d="M826.5 289.5L795.0 287.9M799.7 288.1L797.3 283.0"/>
<path d="M826.5 279.4L795.0 276.1M799.7 276.6L797.6 271.4"/>
<path d="M826.5 268.4L795.0 265.1M795.0 265.1L790.8 254.7"/>
<path d="M826.4 257.8L795.1 253.7M795.1 253.7L791.2 243.2"/>
<path d="M826.4 246.7L795.1 242.8M795.1 242.8L791.1 232.4"/>
<path d="M826.3 236.5L795.2 231.1M795.2 231.1L791.7 220.4M799.8 231.9L798.1 226.6"/>
<path d="M826.2 226.3L795.3 219.4M795.3 219.4L792.4 208.6"/>
<path d="M826.1 215.4L795.4 208.3M795.4 208.3L792.5 197.4M799.9 209.3L798.5 203.9"/>
<path d="M826.2 203.9L795.3 197.7M795.3 197.7L792.0 187.0M799.9 198.7L798.3 193.3"/>
<path d="M826.4 192.2L795.1 187.5M795.1 187.5L791.4 177.0M799.8 188.2L796.0 177.7"/>
<path d="M826.5 180.2L795.0 177.6M795.0 177.6L790.6 167.3M799.7 177.9L795.3 167.7"/>
<path d="M826.5 169.5L795.0 166.3M795.0 166.3L790.8 156.0M799.7 166.8L795.5 156.4"/>
<path d="M826.5 158.2L795.0 155.6M795.0 155.6L790.6 145.4M799.7 156.0L795.2 145.7"/>
<path d="M826.5 147.3L795.0 144.5M795.0 144.5L790.7 134.2M799.7 144.9L795.3 134.6"/>
<path d="M826.5 136.0L795.0 133.9M795.0 133.9L790.4 123.7M799.7 134.2L795.1 124.0M804.4 134.5L802.1 129.4"/>
<path d="M826.5 125.4L795.0 122.6M795.0 122.6L790.7 112.2M799.7 123.0L795.3 112.7"/>
<path d="M826.5 114.2L795.0 111.8M795.0 111.8L790.5 101.5M799.7 112.1L795.2 101.9"/>
<path d="M826.5 103.2L795.0 100.8M795.0 100.8L790.5 90.6M799.7 101.2L795.2 90.9"/>

<path d="M885.0 392.3L856.0 404.7"/>
<path d="M881.9 376.6L859.1 398.5"/>
<path d="M885.3 382.0L855.7 371.1M860.1 372.8L859.3 367.2"/>
<path d="M886.3 366.4L854.7 364.7M859.4 365.0L857.0 359.9"/>
<path d="M886.3 355.1L854.7 354.0M859.4 354.2L857.0 349.2"/>
<path d="M886.3 343.6L854.7 343.6M859.4 343.6L856.8 338.7"/>
<path d="M886.3 332.6L854.7 332.6M859.4 332.6L856.8 327.7"/>
<path d="M886.3 321.6L854.7 321.6M859.4 321.6L856.8 316.7"/>
<path d="M886.3 310.7L854.7 310.7M859.4 310.7L856.8 305.7"/>
<path d="M886.3 299.7L854.7 299.7M859.4 299.7L856.8 294.7"/>
<path d="M886.3 288.4L854.7 289.0M859.4 288.9L856.7 284.0"/>
<path d="M886.3 277.7L854.7 277.7M854.7 277.7L849.4 267.8"/>
<path d="M886.3 267.6L854.7 265.9M854.7 265.9L850.0 255.8"/>
<path d="M886.3 256.5L854.7 255.0M854.7 255.0L849.9 244.9M859.4 255.2L857.0 250.2"/>
<path d="M886.2 246.1L854.8 243.4M854.8 243.4L850.4 233.1M859.4 243.8L857.3 238.6"/>
<path d="M886.2 235.4L854.8 232.1M854.8 232.1L850.6 221.7"/>
<path d="M883.6 231.6L857.4 214.0M857.4 214.0L858.6 202.8M861.3 216.6L861.9 211.0"/>
<path d="M884.6 219.0L856.4 204.6M856.4 204.6L856.2 193.5M860.6 206.8L860.4 195.6"/>
<path d="M885.6 205.5L855.4 196.2M855.4 196.2L853.3 185.2M859.9 197.6L857.7 186.6"/>
<path d="M886.1 192.1L854.9 187.7M854.9 187.7L851.0 177.1M859.5 188.3L855.7 177.8"/>
<path d="M886.2 180.3L854.8 177.5M854.8 177.5L850.4 167.2M859.4 177.9L855.1 167.6"/>
<path d="M886.2 169.3L854.8 166.5M854.8 166.5L850.4 156.2M859.4 166.9L855.1 156.6"/>
<path d="M886.2 158.3L854.8 155.5M854.8 155.5L850.4 145.2M859.4 155.9L855.1 145.6"/>
<path d="M886.2 147.3L854.8 144.6M854.8 144.6L850.4 134.2M859.4 145.0L855.1 134.7"/>
<path d="M886.2 136.3L854.8 133.6M854.8 133.6L850.4 123.3M859.4 134.0L855.1 123.7M864.1 134.4L861.9 129.2"/>
<path d="M886.2 125.3L854.8 122.6M854.8 122.6L850.4 112.3M859.4 123.0L855.1 112.7M864.1 123.4L861.9 118.3"/>
<path d="M886.2 114.4L854.8 111.6M854.8 111.6L850.4 101.3M859.4 112.0L855.1 101.7"/>
<path d="M886.2 103.4L854.8 100.6M854.8 100.6L850.4 90.3M859.4 101.0L855.1 90.7"/>
</g>
<path d="M153.5 409.50h24M870.5 409.50h-24M153.5 365.57h24M870.5 365.57h-24M153.5 321.64h24M870.5 321.64h-24M153.5 277.71h24M870.5 277.71h-24M153.5 233.79h24M870.5 233.79h-24M153.5 189.86h24M870.5 189.86h-24M153.5 145.93h24M870.5 145.93h-24M153.5 102.00h24M870.5 102.00h-24" stroke="#000" stroke-width="1.2" fill="none"/>
<path d="M153.5 398.52h12M870.5 398.52h-12M153.5 387.54h12M870.5 387.54h-12M153.5 376.55h12M870.5 376.55h-12M153.5 354.59h12M870.5 354.59h-12M153.5 343.61h12M870.5 343.61h-12M153.5 332.62h12M870.5 332.62h-12M153.5 310.66h12M870.5 310.66h-12M153.5 299.68h12M870.5 299.68h-12M153.5 288.70h12M870.5 288.70h-12M153.5 266.73h12M870.5 266.73h-12M153.5 255.75h12M870.5 255.75h-12M153.5 244.77h12M870.5 244.77h-12M153.5 222.80h12M870.5 222.80h-12M153.5 211.82h12M870.5 211.82h-12M153.5 200.84h12M870.5 200.84h-12M153.5 178.88h12M870.5 178.88h-12M153.5 167.89h12M870.5 167.89h-12M153.5 156.91h12M870.5 156.91h-12M153.5 134.95h12M870.5 134.95h-12M153.5 123.96h12M870.5 123.96h-12M153.5 112.98h12M870.5 112.98h-12" stroke="#000" stroke-opacity="0.7" stroke-width="0.95" fill="none"/>
<path d="M153.50 102.0v11.3M153.50 409.5v-11.3M213.25 102.0v11.3M213.25 409.5v-11.3M273.00 102.0v11.3M273.00 409.5v-11.3M332.75 102.0v11.3M332.75 409.5v-11.3M392.50 102.0v11.3M392.50 409.5v-11.3M452.25 102.0v11.3M452.25 409.5v-11.3M512.00 102.0v11.3M512.00 409.5v-11.3M571.75 102.0v11.3M571.75 409.5v-11.3M631.50 102.0v11.3M631.50 409.5v-11.3M691.25 102.0v11.3M691.25 409.5v-11.3M751.00 102.0v11.3M751.00 409.5v-11.3M810.75 102.0v11.3M810.75 409.5v-11.3M870.50 102.0v11.3M870.50 409.5v-11.3" stroke="#000" stroke-width="1.15" fill="none"/>
</g>
<rect x="153.5" y="102.0" width="717.0" height="307.5" fill="none" stroke="#000" stroke-width="1.15"/>
<text x="144" y="414.6" font-size="14" text-anchor="end">0</text>
<text x="144" y="370.7" font-size="14" text-anchor="end">4</text>
<text x="144" y="326.7" font-size="14" text-anchor="end">8</text>
<text x="144" y="282.8" font-size="14" text-anchor="end">12</text>
<text x="144" y="238.9" font-size="14" text-anchor="end">16</text>
<text x="144" y="195.0" font-size="14" text-anchor="end">20</text>
<text x="144" y="151.0" font-size="14" text-anchor="end">24</text>
<text x="144" y="107.1" font-size="14" text-anchor="end">28</text>
<text transform="translate(152.9 434.5) rotate(-45)" font-size="12.7" text-anchor="middle" y="4.5">20_12</text>
<text transform="translate(212.7 434.5) rotate(-45)" font-size="12.7" text-anchor="middle" y="4.5">20_15</text>
<text transform="translate(272.4 434.5) rotate(-45)" font-size="12.7" text-anchor="middle" y="4.5">20_18</text>
<text transform="translate(332.1 434.5) rotate(-45)" font-size="12.7" text-anchor="middle" y="4.5">20_21</text>
<text transform="translate(391.9 434.5) rotate(-45)" font-size="12.7" text-anchor="middle" y="4.5">21_00</text>
<text transform="translate(451.6 434.5) rotate(-45)" font-size="12.7" text-anchor="middle" y="4.5">21_03</text>
<text transform="translate(511.4 434.5) rotate(-45)" font-size="12.7" text-anchor="middle" y="4.5">21_06</text>
<text transform="translate(571.1 434.5) rotate(-45)" font-size="12.7" text-anchor="middle" y="4.5">21_09</text>
<text transform="translate(630.9 434.5) rotate(-45)" font-size="12.7" text-anchor="middle" y="4.5">21_12</text>
<text transform="translate(690.6 434.5) rotate(-45)" font-size="12.7" text-anchor="middle" y="4.5">21_15</text>
<text transform="translate(750.4 434.5) rotate(-45)" font-size="12.7" text-anchor="middle" y="4.5">21_18</text>
<text transform="translate(810.1 434.5) rotate(-45)" font-size="12.7" text-anchor="middle" y="4.5">21_21</text>
<text transform="translate(869.9 434.5) rotate(-45)" font-size="12.7" text-anchor="middle" y="4.5">22_00</text>
<rect x="891.2" y="113.2" width="19.8" height="285.8" fill="url(#cbg)"/>
<path d="M891.2 116.15h19.8M891.2 119.09h19.8M891.2 122.04h19.8M891.2 124.99h19.8M891.2 127.93h19.8M891.2 130.88h19.8M891.2 133.82h19.8M891.2 136.77h19.8M891.2 139.72h19.8M891.2 142.66h19.8M891.2 145.61h19.8M891.2 148.56h19.8M891.2 151.50h19.8M891.2 154.45h19.8M891.2 157.40h19.8M891.2 160.34h19.8M891.2 163.29h19.8M891.2 166.24h19.8M891.2 169.18h19.8M891.2 172.13h19.8M891.2 175.07h19.8M891.2 178.02h19.8M891.2 180.97h19.8M891.2 183.91h19.8M891.2 186.86h19.8M891.2 189.81h19.8M891.2 192.75h19.8M891.2 195.70h19.8M891.2 198.65h19.8M891.2 201.59h19.8M891.2 204.54h19.8M891.2 207.48h19.8M891.2 210.43h19.8M891.2 213.38h19.8M891.2 216.32h19.8M891.2 219.27h19.8M891.2 222.22h19.8M891.2 225.16h19.8M891.2 228.11h19.8M891.2 231.06h19.8M891.2 234.00h19.8M891.2 236.95h19.8M891.2 239.89h19.8M891.2 242.84h19.8M891.2 245.79h19.8M891.2 248.73h19.8M891.2 251.68h19.8M891.2 254.63h19.8M891.2 257.57h19.8M891.2 260.52h19.8M891.2 263.47h19.8M891.2 266.41h19.8M891.2 269.36h19.8M891.2 272.31h19.8M891.2 275.25h19.8M891.2 278.20h19.8M891.2 281.14h19.8M891.2 284.09h19.8M891.2 287.04h19.8M891.2 289.98h19.8M891.2 292.93h19.8M891.2 295.88h19.8M891.2 298.82h19.8M891.2 301.77h19.8M891.2 304.72h19.8M891.2 307.66h19.8M891.2 310.61h19.8M891.2 313.55h19.8M891.2 316.50h19.8M891.2 319.45h19.8M891.2 322.39h19.8M891.2 325.34h19.8M891.2 328.29h19.8M891.2 331.23h19.8M891.2 334.18h19.8M891.2 337.13h19.8M891.2 340.07h19.8M891.2 343.02h19.8M891.2 345.96h19.8M891.2 348.91h19.8M891.2 351.86h19.8M891.2 354.80h19.8M891.2 357.75h19.8M891.2 360.70h19.8M891.2 363.64h19.8M891.2 366.59h19.8M891.2 369.54h19.8M891.2 372.48h19.8M891.2 375.43h19.8M891.2 378.38h19.8M891.2 381.32h19.8M891.2 384.27h19.8M891.2 387.21h19.8M891.2 390.16h19.8M891.2 393.11h19.8M891.2 396.05h19.8" stroke="#fff" stroke-opacity="0.3" stroke-width="0.55" fill="none"/>
<text x="929.3" y="122.0" font-size="16.4">35</text>
<text x="929.3" y="142.6" font-size="16.4">28</text>
<text x="929.3" y="163.2" font-size="16.4">21</text>
<text x="929.3" y="183.9" font-size="16.4">14</text>
<text x="929.3" y="204.5" font-size="16.4">7</text>
<text x="929.3" y="225.1" font-size="16.4">0</text>
<text x="929.3" y="245.7" font-size="16.4">-7</text>
<text x="929.3" y="266.4" font-size="16.4">-14</text>
<text x="929.3" y="287.0" font-size="16.4">-21</text>
<text x="929.3" y="307.6" font-size="16.4">-28</text>
<text x="929.3" y="328.2" font-size="16.4">-35</text>
<text x="929.3" y="348.9" font-size="16.4">-42</text>
<text x="929.3" y="369.5" font-size="16.4">-49</text>
<text x="929.3" y="390.1" font-size="16.4">-56</text>
<path d="M153.5 542.38H870.5M153.5 521.96H870.5M153.5 501.54H870.5M153.5 481.12H870.5" stroke="#333" stroke-width="0.62" stroke-dasharray="4.1 4.1" stroke-dashoffset="1" fill="none"/>
<path d="M204.71 460.7V562.8M255.93 460.7V562.8M307.14 460.7V562.8M358.36 460.7V562.8M409.57 460.7V562.8M460.79 460.7V562.8M512.00 460.7V562.8M563.21 460.7V562.8M614.43 460.7V562.8M665.64 460.7V562.8M716.86 460.7V562.8M768.07 460.7V562.8M819.29 460.7V562.8" stroke="#333" stroke-width="0.62" stroke-dasharray="4.1 4.1" stroke-dashoffset="4.4" fill="none"/>
<polyline points="204.7,478.2 255.9,471.9 307.1,485.5 358.4,496.5 409.6,511.1 460.8,512.4 512.0,533.0 563.2,546.6 614.4,546.0 665.6,552.0 716.9,555.6 768.1,552.3 819.3,551.6" fill="none" stroke="#0000ff" stroke-width="1.05"/>
<rect x="153.5" y="460.7" width="717.0" height="102.09999999999997" fill="none" stroke="#000" stroke-width="1.1"/>
<text x="133.6" y="565.9" font-size="8.6" text-anchor="end">1014</text>
<text x="133.6" y="545.5" font-size="8.6" text-anchor="end">1016</text>
<text x="133.6" y="525.1" font-size="8.6" text-anchor="end">1018</text>
<text x="133.6" y="504.6" font-size="8.6" text-anchor="end">1020</text>
<text x="133.6" y="484.2" font-size="8.6" text-anchor="end">1022</text>
<text x="133.6" y="463.8" font-size="8.6" text-anchor="end">1024</text>
<text transform="translate(208.2 589.8) rotate(-45)" font-size="12.5" text-anchor="middle" y="4.3">20_12</text>
<text transform="translate(259.4 589.8) rotate(-45)" font-size="12.5" text-anchor="middle" y="4.3">20_15</text>
<text transform="translate(310.6 589.8) rotate(-45)" font-size="12.5" text-anchor="middle" y="4.3">20_18</text>
<text transform="translate(361.9 589.8) rotate(-45)" font-size="12.5" text-anchor="middle" y="4.3">20_21</text>
<text transform="translate(413.1 589.8) rotate(-45)" font-size="12.5" text-anchor="middle" y="4.3">21_00</text>
<text transform="translate(464.3 589.8) rotate(-45)" font-size="12.5" text-anchor="middle" y="4.3">21_03</text>
<text transform="translate(515.5 589.8) rotate(-45)" font-size="12.5" text-anchor="middle" y="4.3">21_06</text>
<text transform="translate(566.7 589.8) rotate(-45)" font-size="12.5" text-anchor="middle" y="4.3">21_09</text>
<text transform="translate(617.9 589.8) rotate(-45)" font-size="12.5" text-anchor="middle" y="4.3">21_12</text>
<text transform="translate(669.1 589.8) rotate(-45)" font-size="12.5" text-anchor="middle" y="4.3">21_15</text>
<text transform="translate(720.4 589.8) rotate(-45)" font-size="12.5" text-anchor="middle" y="4.3">21_18</text>
<text transform="translate(771.6 589.8) rotate(-45)" font-size="12.5" text-anchor="middle" y="4.3">21_21</text>
<text transform="translate(822.8 589.8) rotate(-45)" font-size="12.5" text-anchor="middle" y="4.3">22_00</text>
<path d="M153.5 562.80h-14.3M870.5 562.80h14.3M153.5 542.38h-14.3M870.5 542.38h14.3M153.5 521.96h-14.3M870.5 521.96h14.3M153.5 501.54h-14.3M870.5 501.54h14.3M153.5 481.12h-14.3M870.5 481.12h14.3M153.5 460.70h-14.3M870.5 460.70h14.3M204.71 562.8v14M255.93 562.8v14M307.14 562.8v14M358.36 562.8v14M409.57 562.8v14M460.79 562.8v14M512.00 562.8v14M563.21 562.8v14M614.43 562.8v14M665.64 562.8v14M716.86 562.8v14M768.07 562.8v14M819.29 562.8v14" stroke="#000" stroke-width="1.05" fill="none"/>
<path d="M153.5 557.69h-7.3M870.5 557.69h7.3M153.5 552.59h-7.3M870.5 552.59h7.3M153.5 547.49h-7.3M870.5 547.49h7.3M153.5 537.27h-7.3M870.5 537.27h7.3M153.5 532.17h-7.3M870.5 532.17h7.3M153.5 527.07h-7.3M870.5 527.07h7.3M153.5 516.85h-7.3M870.5 516.85h7.3M153.5 511.75h-7.3M870.5 511.75h7.3M153.5 506.64h-7.3M870.5 506.64h7.3M153.5 496.43h-7.3M870.5 496.43h7.3M153.5 491.33h-7.3M870.5 491.33h7.3M153.5 486.22h-7.3M870.5 486.22h7.3M153.5 476.01h-7.3M870.5 476.01h7.3M153.5 470.91h-7.3M870.5 470.91h7.3M153.5 465.81h-7.3M870.5 465.81h7.3" stroke="#3a3a3a" stroke-width="0.72" fill="none"/>
<text transform="translate(99.1 512.25) rotate(-90)" font-size="26" text-anchor="middle" textLength="64" lengthAdjust="spacingAndGlyphs">PMSL</text>
<path d="M153.5 699.40H870.5M153.5 682.40H870.5M153.5 665.40H870.5M153.5 648.40H870.5M153.5 631.40H870.5" stroke="#333" stroke-width="0.62" stroke-dasharray="4.1 4.1" stroke-dashoffset="1" fill="none"/>
<path d="M204.71 614.4V716.4M255.93 614.4V716.4M307.14 614.4V716.4M358.36 614.4V716.4M409.57 614.4V716.4M460.79 614.4V716.4M512.00 614.4V716.4M563.21 614.4V716.4M614.43 614.4V716.4M665.64 614.4V716.4M716.86 614.4V716.4M768.07 614.4V716.4M819.29 614.4V716.4" stroke="#333" stroke-width="0.62" stroke-dasharray="4.1 4.1" stroke-dashoffset="4.4" fill="none"/>
<polyline points="204.7,641.5 255.9,671.6 307.1,687.3 358.4,699.6 409.6,713.2 460.8,701.6 512.0,648.8 563.2,621.6 614.4,636.9 665.6,680.7 716.9,689.3 768.1,698.0 819.3,705.9" fill="none" stroke="#ff0000" stroke-width="1.05"/>
<rect x="153.5" y="614.4" width="717.0" height="102.0" fill="none" stroke="#000" stroke-width="1.1"/>
<text x="134.2" y="719.7" font-size="9.3" text-anchor="end">-4.0</text>
<text x="134.2" y="702.7" font-size="9.3" text-anchor="end">-2.0</text>
<text x="134.2" y="685.7" font-size="9.3" text-anchor="end">0.0</text>
<text x="134.2" y="668.7" font-size="9.3" text-anchor="end">2.0</text>
<text x="134.2" y="651.7" font-size="9.3" text-anchor="end">4.0</text>
<text x="134.2" y="634.7" font-size="9.3" text-anchor="end">6.0</text>
<text x="134.2" y="617.7" font-size="9.3" text-anchor="end">8.0</text>
<text transform="translate(208.2 743.4) rotate(-45)" font-size="12.5" text-anchor="middle" y="4.3">20_12</text>
<text transform="translate(259.4 743.4) rotate(-45)" font-size="12.5" text-anchor="middle" y="4.3">20_15</text>
<text transform="translate(310.6 743.4) rotate(-45)" font-size="12.5" text-anchor="middle" y="4.3">20_18</text>
<text transform="translate(361.9 743.4) rotate(-45)" font-size="12.5" text-anchor="middle" y="4.3">20_21</text>
<text transform="translate(413.1 743.4) rotate(-45)" font-size="12.5" text-anchor="middle" y="4.3">21_00</text>
<text transform="translate(464.3 743.4) rotate(-45)" font-size="12.5" text-anchor="middle" y="4.3">21_03</text>
<text transform="translate(515.5 743.4) rotate(-45)" font-size="12.5" text-anchor="middle" y="4.3">21_06</text>
<text transform="translate(566.7 743.4) rotate(-45)" font-size="12.5" text-anchor="middle" y="4.3">21_09</text>
<text transform="translate(617.9 743.4) rotate(-45)" font-size="12.5" text-anchor="middle" y="4.3">21_12</text>
<text transform="translate(669.1 743.4) rotate(-45)" font-size="12.5" text-anchor="middle" y="4.3">21_15</text>
<text transform="translate(720.4 743.4) rotate(-45)" font-size="12.5" text-anchor="middle" y="4.3">21_18</text>
<text transform="translate(771.6 743.4) rotate(-45)" font-size="12.5" text-anchor="middle" y="4.3">21_21</text>
<text transform="translate(822.8 743.4) rotate(-45)" font-size="12.5" text-anchor="middle" y="4.3">22_00</text>
<path d="M153.5 716.40h-14.3M870.5 716.40h14.3M153.5 699.40h-14.3M870.5 699.40h14.3M153.5 682.40h-14.3M870.5 682.40h14.3M153.5 665.40h-14.3M870.5 665.40h14.3M153.5 648.40h-14.3M870.5 648.40h14.3M153.5 631.40h-14.3M870.5 631.40h14.3M153.5 614.40h-14.3M870.5 614.40h14.3M204.71 716.4v14M255.93 716.4v14M307.14 716.4v14M358.36 716.4v14M409.57 716.4v14M460.79 716.4v14M512.00 716.4v14M563.21 716.4v14M614.43 716.4v14M665.64 716.4v14M716.86 716.4v14M768.07 716.4v14M819.29 716.4v14" stroke="#000" stroke-width="1.05" fill="none"/>
<path d="M153.5 712.15h-7.3M870.5 712.15h7.3M153.5 707.90h-7.3M870.5 707.90h7.3M153.5 703.65h-7.3M870.5 703.65h7.3M153.5 695.15h-7.3M870.5 695.15h7.3M153.5 690.90h-7.3M870.5 690.90h7.3M153.5 686.65h-7.3M870.5 686.65h7.3M153.5 678.15h-7.3M870.5 678.15h7.3M153.5 673.90h-7.3M870.5 673.90h7.3M153.5 669.65h-7.3M870.5 669.65h7.3M153.5 661.15h-7.3M870.5 661.15h7.3M153.5 656.90h-7.3M870.5 656.90h7.3M153.5 652.65h-7.3M870.5 652.65h7.3M153.5 644.15h-7.3M870.5 644.15h7.3M153.5 639.90h-7.3M870.5 639.90h7.3M153.5 635.65h-7.3M870.5 635.65h7.3M153.5 627.15h-7.3M870.5 627.15h7.3M153.5 622.90h-7.3M870.5 622.90h7.3M153.5 618.65h-7.3M870.5 618.65h7.3" stroke="#3a3a3a" stroke-width="0.72" fill="none"/>
<text transform="translate(102.8 665.2) rotate(-90)" font-size="26" text-anchor="middle" textLength="136.8" lengthAdjust="spacingAndGlyphs">TEMP at 2 M</text>
<path d="M153.5 925.74H870.5M153.5 899.08H870.5M153.5 872.42H870.5M153.5 845.76H870.5" stroke="#333" stroke-width="0.62" stroke-dasharray="4.1 4.1" stroke-dashoffset="1" fill="none"/>
<path d="M213.25 819.1V952.4M273.00 819.1V952.4M332.75 819.1V952.4M392.50 819.1V952.4M452.25 819.1V952.4M512.00 819.1V952.4M571.75 819.1V952.4M631.50 819.1V952.4M691.25 819.1V952.4M751.00 819.1V952.4M810.75 819.1V952.4" stroke="#333" stroke-width="0.62" stroke-dasharray="4.1 4.1" stroke-dashoffset="4.4" fill="none"/>
<rect x="153.5" y="819.1" width="717.0" height="133.29999999999995" fill="none" stroke="#000" stroke-width="1.1"/>
<text x="133.1" y="955.8" font-size="9.5" text-anchor="end">0.0</text>
<text x="133.1" y="929.2" font-size="9.5" text-anchor="end">0.2</text>
<text x="133.1" y="902.5" font-size="9.5" text-anchor="end">0.4</text>
<text x="133.1" y="875.8" font-size="9.5" text-anchor="end">0.6</text>
<text x="133.1" y="849.2" font-size="9.5" text-anchor="end">0.8</text>
<text x="133.1" y="822.5" font-size="9.5" text-anchor="end">1.0</text>
<text transform="translate(157.0 979.4) rotate(-45)" font-size="12.5" text-anchor="middle" y="4.3">20_12</text>
<text transform="translate(216.8 979.4) rotate(-45)" font-size="12.5" text-anchor="middle" y="4.3">20_15</text>
<text transform="translate(276.5 979.4) rotate(-45)" font-size="12.5" text-anchor="middle" y="4.3">20_18</text>
<text transform="translate(336.2 979.4) rotate(-45)" font-size="12.5" text-anchor="middle" y="4.3">20_21</text>
<text transform="translate(396.0 979.4) rotate(-45)" font-size="12.5" text-anchor="middle" y="4.3">21_00</text>
<text transform="translate(455.8 979.4) rotate(-45)" font-size="12.5" text-anchor="middle" y="4.3">21_03</text>
<text transform="translate(515.5 979.4) rotate(-45)" font-size="12.5" text-anchor="middle" y="4.3">21_06</text>
<text transform="translate(575.2 979.4) rotate(-45)" font-size="12.5" text-anchor="middle" y="4.3">21_09</text>
<text transform="translate(635.0 979.4) rotate(-45)" font-size="12.5" text-anchor="middle" y="4.3">21_12</text>
<text transform="translate(694.8 979.4) rotate(-45)" font-size="12.5" text-anchor="middle" y="4.3">21_15</text>
<text transform="translate(754.5 979.4) rotate(-45)" font-size="12.5" text-anchor="middle" y="4.3">21_18</text>
<text transform="translate(814.2 979.4) rotate(-45)" font-size="12.5" text-anchor="middle" y="4.3">21_21</text>
<text transform="translate(874.0 979.4) rotate(-45)" font-size="12.5" text-anchor="middle" y="4.3">22_00</text>
<path d="M153.5 952.40h-14.3M870.5 952.40h14.3M153.5 925.74h-14.3M870.5 925.74h14.3M153.5 899.08h-14.3M870.5 899.08h14.3M153.5 872.42h-14.3M870.5 872.42h14.3M153.5 845.76h-14.3M870.5 845.76h14.3M153.5 819.10h-14.3M870.5 819.10h14.3M153.50 952.4v14M213.25 952.4v14M273.00 952.4v14M332.75 952.4v14M392.50 952.4v14M452.25 952.4v14M512.00 952.4v14M571.75 952.4v14M631.50 952.4v14M691.25 952.4v14M751.00 952.4v14M810.75 952.4v14M870.50 952.4v14" stroke="#000" stroke-width="1.05" fill="none"/>
<path d="M153.5 945.74h-7.3M870.5 945.74h7.3M153.5 939.07h-7.3M870.5 939.07h7.3M153.5 932.40h-7.3M870.5 932.40h7.3M153.5 919.08h-7.3M870.5 919.08h7.3M153.5 912.41h-7.3M870.5 912.41h7.3M153.5 905.75h-7.3M870.5 905.75h7.3M153.5 892.42h-7.3M870.5 892.42h7.3M153.5 885.75h-7.3M870.5 885.75h7.3M153.5 879.09h-7.3M870.5 879.09h7.3M153.5 865.75h-7.3M870.5 865.75h7.3M153.5 859.09h-7.3M870.5 859.09h7.3M153.5 852.42h-7.3M870.5 852.42h7.3M153.5 839.10h-7.3M870.5 839.10h7.3M153.5 832.43h-7.3M870.5 832.43h7.3M153.5 825.76h-7.3M870.5 825.76h7.3" stroke="#3a3a3a" stroke-width="0.72" fill="none"/>
<text transform="translate(100.7 885.5) rotate(-90)" font-size="26" text-anchor="middle" textLength="143.5" lengthAdjust="spacingAndGlyphs">PRECIP, mm</text>
<path d="M153.5 952.4H870.5" stroke="#064a06" stroke-width="1.25" fill="none"/>
</svg></body></html>
